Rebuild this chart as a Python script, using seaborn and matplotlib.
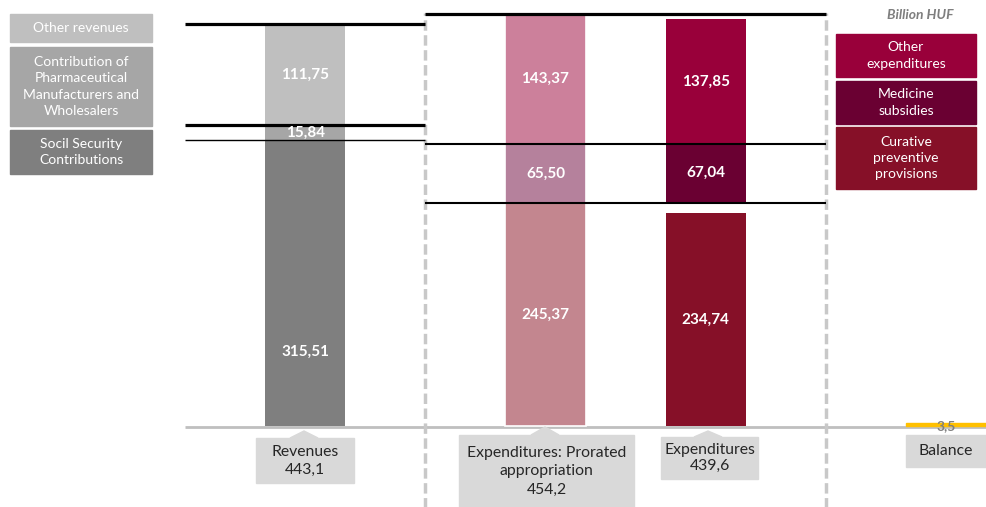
import matplotlib
matplotlib.use('Agg')
import matplotlib.pyplot as plt
from matplotlib.patches import Rectangle, Polygon
import numpy as np
import seaborn as sns

## data (billion HUF)
rev_names = ['Socil Security\nContributions',
             'Contribution of\nPharmaceutical\nManufacturers and\nWholesalers',
             'Other revenues']
rev_values = [315.51, 15.84, 111.75]
rev_colors = ['#7f7f7f', '#a6a6a6', '#bfbfbf']

prorated_values = [245.37, 65.50, 143.37]
prorated_colors = ['#c3868f', '#b5819c', '#cc809b']

exp_names = ['Curative\npreventive\nprovisions', 'Medicine\nsubsidies', 'Other\nexpenditures']
exp_values = [234.74, 67.04, 137.85]
exp_colors = ['#861028', '#6a0032', '#99003a']

balance = 3.5
columns = ['Revenues', 'Expenditures: Prorated\nappropriation', 'Expenditures', 'Balance']
column_totals = ['443,1', '454,2', '439,6', '']
col_x = [0, 3, 5, 8]

sns.set_style('white')
plt.rcParams['font.family'] = ['Lato', 'DejaVu Sans']

W, H = 986, 507
fig = plt.figure(figsize=(W / 100, H / 100), dpi=100)
ax = fig.add_axes([0, 0, 1, 1])
ax.set_xlim(-1.5 - 185 / 80.1, 8.5)
ax.set_ylim(-(H - 426) / 0.907, 426 / 0.907)
ax.axis('off')


def fmt(v):
    return ('%.2f' % v).replace('.', ',')


def stack(x, values, colors, bottoms, fracs, ec='none'):
    for v, c, b, f in zip(values, colors, bottoms, fracs):
        ax.bar(x, v, bottom=b, width=1.0, color=c, edgecolor=ec, lw=1.2, zorder=2)
        ax.text(x, b + v * f, fmt(v), ha='center', va='center', color='white',
                fontsize=11, fontweight='bold', zorder=5)


rev_bottoms = np.concatenate([[0], np.cumsum(rev_values)[:-1]])
pro_bottoms = np.concatenate([[0], np.cumsum(prorated_values)[:-1]])
stack(col_x[0], rev_values, rev_colors, rev_bottoms, [0.26, 0.5, 0.5])
stack(col_x[1], prorated_values, prorated_colors, pro_bottoms, [0.5, 0.5, 0.5], ec='white')
# expenditures sit on the prorated levels
stack(col_x[2], exp_values, exp_colors, pro_bottoms, [0.5, 0.5, 0.5])

# baseline
ax.hlines(-1, -1.5, 8.5, color='#bfbfbf', lw=2, zorder=1)

# balance
ax.bar(col_x[3], balance, width=1.0, color='#ffc000', edgecolor='#ffc000', lw=1, zorder=2)
ax.text(col_x[3], -0.5, ('%.1f' % balance).replace('.', ','), ha='center', va='center',
        color='#7f7f7f', fontsize=10, fontweight='bold', zorder=5)

# level lines
rev_cum = np.cumsum(rev_values)
pro_cum = np.cumsum(prorated_values)
ax.hlines([rev_cum[2], rev_cum[1]], -1.5, 1.5, color='black', lw=2.3, zorder=4)
ax.hlines(rev_cum[0], -1.5, 1.5, color='black', lw=1, zorder=4)
ax.hlines(pro_cum[2], 1.5, 6.5, color='black', lw=2.3, zorder=4)
ax.hlines(pro_cum[:2], 1.5, 6.5, color='black', lw=1.5, zorder=4)

# dashed separators
ax.vlines([1.5, 6.5], -95, 455, color='#c8c8c8', lw=2.5, linestyles=(0, (3, 1.3)), zorder=3)


def px(x, y):
    return x / W, 1 - y / H


def box(x0, y0, x1, y1, color, text, tcolor='white', size=10, ls=1.5, tip=None):
    fig.add_artist(Rectangle(px(x0, y1), (x1 - x0) / W, (y1 - y0) / H,
                             transform=fig.transFigure, color=color, zorder=6))
    if tip is not None:
        tx, ty = tip
        fig.add_artist(Polygon([px(tx - 14, y0), px(tx, ty), px(tx + 14, y0)],
                               transform=fig.transFigure, color=color, zorder=6))
    cx, cy = px((x0 + x1) / 2, (y0 + y1) / 2)
    fig.text(cx, cy, text, ha='center', va='center', color=tcolor, fontsize=size,
             linespacing=ls, zorder=7)


# left legend
box(10, 14, 152, 42, rev_colors[2], rev_names[2])
box(10, 47, 152, 126, rev_colors[1], rev_names[1], ls=1.45)
box(10, 130, 152, 174, rev_colors[0], rev_names[0])

# right legend
fig.text(920 / W, 1 - 15 / H, 'Billion HUF', ha='center', va='center', color='#7f7f7f',
         fontsize=10, fontweight='bold', fontstyle='italic')
box(836, 34, 976, 77, exp_colors[2], exp_names[2])
box(836, 81, 976, 124, exp_colors[1], exp_names[1])
box(836, 127, 976, 189, exp_colors[0], exp_names[0], ls=1.4)

# column captions
dark = '#262626'
box(256, 438, 354, 483, '#d9d9d9', columns[0] + '\n' + column_totals[0], dark, 11.3, 1.35, tip=(304, 431))
box(459, 435, 634, 507, '#d9d9d9', columns[1] + '\n' + column_totals[1], dark, 11.3, 1.4, tip=(545, 427))
box(661, 437, 758, 479, '#d9d9d9', columns[2] + '\n' + column_totals[2], dark, 11.3, 1.25, tip=(708, 431))
box(906, 435, 986, 467, '#d9d9d9', columns[3], dark, 11.3)

fig.savefig('out.png', dpi=100)
